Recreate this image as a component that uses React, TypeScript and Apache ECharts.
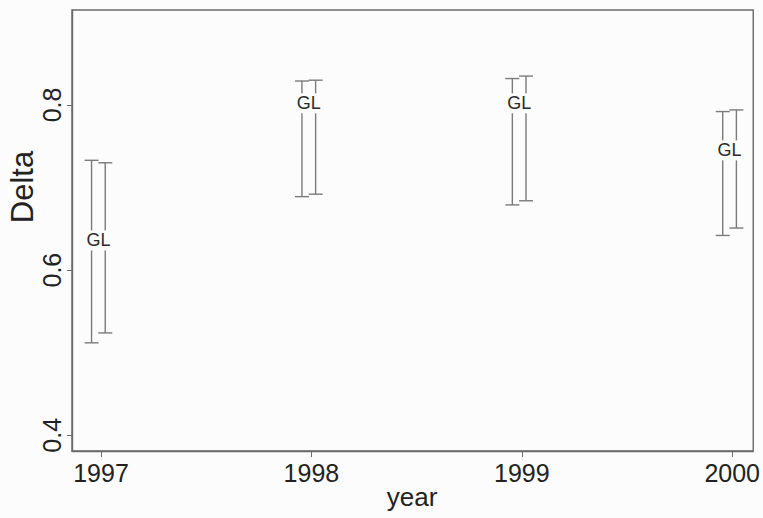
import React, { useEffect, useRef } from "react";
import * as echarts from "echarts";

// Interval estimates of Delta per year, two estimators (A, B), plus the GL point estimate.
const years = [1997, 1998, 1999, 2000];
const lowerA = [0.512, 0.689, 0.679, 0.642];
const upperA = [0.733, 0.829, 0.832, 0.792];
const lowerB = [0.524, 0.692, 0.684, 0.651];
const upperB = [0.730, 0.830, 0.835, 0.794];
const glValues = [0.636, 0.802, 0.802, 0.745];
const glText = "GL";
const yTickValues = [0.4, 0.6, 0.8];
const yearTickValues = [1997, 1998, 1999, 2000];

const OFFSET_A = -0.045;
const OFFSET_B = 0.02;
const LINE = "#7a7a7a";
const BG = "#fcfcfc";
const FONT = "'Liberation Sans', Arial, Helvetica, sans-serif";

export default function App() {
  const ref = useRef<HTMLDivElement>(null);

  useEffect(() => {
    if (!ref.current) return;
    const chart = echarts.init(ref.current, undefined, { renderer: "svg" });

    const intervalsA = years.map((y, i) => [y + OFFSET_A, lowerA[i], upperA[i]]);
    const intervalsB = years.map((y, i) => [y + OFFSET_B, lowerB[i], upperB[i]]);
    const glPoints = years.map((y, i) => [y + (OFFSET_A + OFFSET_B) / 2, glValues[i]]);

    const renderErrorBar = (params: any, api: any) => {
      const x = api.value(0);
      const top = api.coord([x, api.value(2)]);
      const bot = api.coord([x, api.value(1)]);
      const w = 7;
      const style = { stroke: LINE, lineWidth: 1.4 };
      return {
        type: "group",
        children: [
          { type: "line", shape: { x1: top[0], y1: top[1], x2: bot[0], y2: bot[1] }, style },
          { type: "line", shape: { x1: top[0] - w, y1: top[1], x2: top[0] + w, y2: top[1] }, style },
          { type: "line", shape: { x1: bot[0] - w, y1: bot[1], x2: bot[0] + w, y2: bot[1] }, style },
        ],
      };
    };

    // GL marker: text on a small background patch that breaks the interval lines
    const renderGL = (params: any, api: any) => {
      const p = api.coord([api.value(0), api.value(1)]);
      return {
        type: "text",
        x: p[0],
        y: p[1],
        z2: 10,
        style: {
          text: glText,
          fontFamily: FONT,
          fontSize: 18,
          fill: "#2a2a2a",
          align: "center",
          verticalAlign: "middle",
          backgroundColor: BG,
          padding: [1, 0, 1, 0],
        },
      };
    };

    chart.setOption({
      animation: false,
      backgroundColor: BG,
      grid: { left: 72, right: 7, top: 10, bottom: 67, show: true, borderColor: "#6a6a6a", borderWidth: 1.4 },
      xAxis: {
        type: "value",
        min: 1996.862,
        max: 2000.1,
        axisLine: { show: true, onZero: false, lineStyle: { color: "#6a6a6a", width: 1.4 } },
        axisTick: { show: true, length: 6, inside: false, customValues: yearTickValues, lineStyle: { color: "#6a6a6a" } },
        axisLabel: {
          customValues: yearTickValues,
          color: "#222",
          fontFamily: FONT,
          fontSize: 25,
          margin: 9,
          formatter: (v: number) => String(Math.round(v)),
        },
        splitLine: { show: false },
      },
      yAxis: {
        type: "value",
        min: 0.381,
        max: 0.915,
        axisLine: { show: true, onZero: false, lineStyle: { color: "#6a6a6a", width: 1.4 } },
        axisTick: { show: true, length: 5, customValues: yTickValues, lineStyle: { color: "#6a6a6a" } },
        axisLabel: {
          customValues: yTickValues,
          rotate: 90,
          color: "#222",
          fontFamily: FONT,
          fontSize: 25,
          margin: 8,
          formatter: (v: number) => v.toFixed(1),
        },
        splitLine: { show: false },
      },
      graphic: [
        {
          type: "text",
          x: 22,
          y: 187,
          rotation: Math.PI / 2,
          style: {
            text: "Delta",
            fontFamily: FONT,
            fontSize: 31,
            fill: "#222",
            align: "center",
            verticalAlign: "middle",
          },
        },
        {
          type: "text",
          x: 412,
          y: 497,
          style: {
            text: "year",
            fontFamily: FONT,
            fontSize: 26,
            fill: "#222",
            align: "center",
            verticalAlign: "middle",
          },
        },
      ],
      series: [
        { type: "custom", name: "A", data: intervalsA, renderItem: renderErrorBar, z: 2 },
        { type: "custom", name: "B", data: intervalsB, renderItem: renderErrorBar, z: 2 },
        { type: "custom", name: "GL", data: glPoints, renderItem: renderGL, z: 5 },
      ],
    });

    return () => chart.dispose();
  }, []);

  return (
    <div
      ref={ref}
      style={{ position: "fixed", left: 0, top: 0, width: 763, height: 518, background: BG }}
    />
  );
}
